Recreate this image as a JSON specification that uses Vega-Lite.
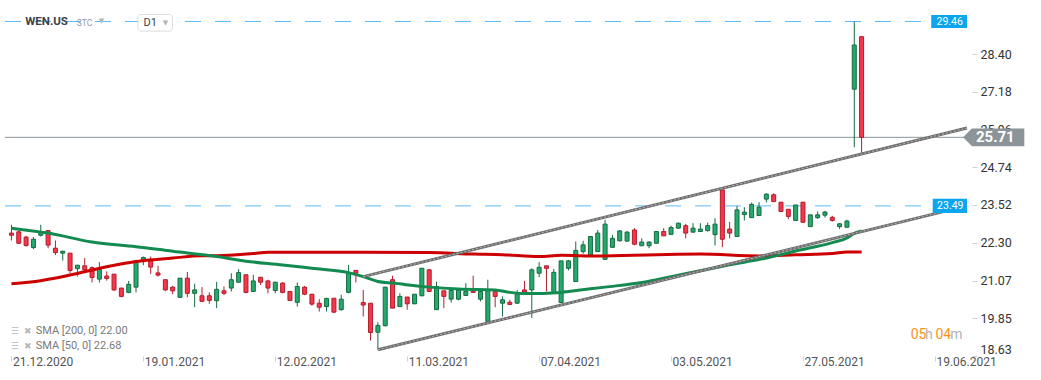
{
  "$schema": "https://vega.github.io/schema/vega-lite/v6.json",
  "width": 972,
  "height": 356,
  "autosize": {"type": "none"},
  "padding": {"left": 0, "top": 0, "right": 69, "bottom": 24},
  "background": "white",
  "config": {
    "view": {"stroke": null},
    "font": "Roboto",
    "axis": {"domain": false, "grid": false, "labelFont": "Roboto", "tickColor": "#d0d0d0"}
  },
  "datasets": {
    "candles": [
      {"i":0,"o":22.61,"h":22.88,"l":22.37,"c":22.54},
      {"i":1,"o":22.65,"h":22.69,"l":22.26,"c":22.28},
      {"i":2,"o":22.48,"h":22.52,"l":22.17,"c":22.21},
      {"i":3,"o":22.14,"h":22.48,"l":22.09,"c":22.41},
      {"i":4,"o":22.54,"h":22.88,"l":22.50,"c":22.66},
      {"i":5,"o":22.69,"h":22.71,"l":22.12,"c":22.22},
      {"i":6,"o":22.12,"h":22.37,"l":21.90,"c":21.98},
      {"i":7,"o":21.96,"h":22.04,"l":21.72,"c":22.02},
      {"i":8,"o":21.96,"h":21.96,"l":21.31,"c":21.40},
      {"i":9,"o":21.46,"h":21.57,"l":21.20,"c":21.57},
      {"i":10,"o":21.55,"h":21.80,"l":21.31,"c":21.42},
      {"i":11,"o":21.49,"h":21.53,"l":21.01,"c":21.17},
      {"i":12,"o":21.12,"h":21.67,"l":21.01,"c":21.44},
      {"i":13,"o":21.22,"h":21.37,"l":21.07,"c":21.14},
      {"i":14,"o":21.28,"h":21.28,"l":20.74,"c":20.77},
      {"i":15,"o":20.83,"h":20.83,"l":20.53,"c":20.56},
      {"i":16,"o":20.69,"h":21.06,"l":20.66,"c":20.95},
      {"i":17,"o":20.86,"h":21.71,"l":20.69,"c":21.71},
      {"i":18,"o":21.69,"h":21.85,"l":21.57,"c":21.82},
      {"i":19,"o":21.76,"h":21.85,"l":21.29,"c":21.51},
      {"i":20,"o":21.32,"h":21.55,"l":21.20,"c":21.25},
      {"i":21,"o":21.10,"h":21.12,"l":20.73,"c":20.77},
      {"i":22,"o":20.86,"h":20.90,"l":20.63,"c":20.74},
      {"i":23,"o":20.53,"h":21.15,"l":20.51,"c":21.15},
      {"i":24,"o":21.15,"h":21.35,"l":20.53,"c":20.66},
      {"i":25,"o":20.66,"h":20.97,"l":20.21,"c":20.77},
      {"i":26,"o":20.58,"h":20.86,"l":20.38,"c":20.40},
      {"i":27,"o":20.58,"h":20.69,"l":20.32,"c":20.43},
      {"i":28,"o":20.42,"h":21.03,"l":20.18,"c":20.79},
      {"i":29,"o":20.74,"h":20.88,"l":20.60,"c":20.66},
      {"i":30,"o":20.83,"h":21.31,"l":20.72,"c":21.10},
      {"i":31,"o":21.02,"h":21.44,"l":21.01,"c":21.33},
      {"i":32,"o":21.26,"h":21.26,"l":20.66,"c":20.69},
      {"i":33,"o":20.72,"h":21.26,"l":20.71,"c":21.06},
      {"i":34,"o":21.18,"h":21.18,"l":20.93,"c":21.02},
      {"i":35,"o":21.06,"h":21.10,"l":20.66,"c":20.83},
      {"i":36,"o":20.75,"h":21.02,"l":20.66,"c":21.02},
      {"i":37,"o":20.99,"h":21.02,"l":20.66,"c":20.69},
      {"i":38,"o":20.72,"h":20.72,"l":20.42,"c":20.43},
      {"i":39,"o":20.37,"h":21.01,"l":20.23,"c":20.88},
      {"i":40,"o":20.86,"h":20.90,"l":20.60,"c":20.63},
      {"i":41,"o":20.63,"h":20.63,"l":20.26,"c":20.31},
      {"i":42,"o":20.34,"h":20.47,"l":20.07,"c":20.21},
      {"i":43,"o":20.23,"h":20.52,"l":20.07,"c":20.49},
      {"i":44,"o":20.50,"h":20.50,"l":20.02,"c":20.05},
      {"i":45,"o":20.13,"h":20.61,"l":20.10,"c":20.47},
      {"i":46,"o":20.69,"h":21.58,"l":20.66,"c":21.31},
      {"i":47,"o":21.40,"h":21.42,"l":21.01,"c":21.31},
      {"i":48,"o":20.36,"h":20.77,"l":19.91,"c":20.28},
      {"i":49,"o":20.34,"h":20.34,"l":19.13,"c":19.39},
      {"i":50,"o":19.40,"h":19.72,"l":18.83,"c":19.62},
      {"i":51,"o":19.61,"h":20.86,"l":19.59,"c":20.86},
      {"i":52,"o":21.10,"h":21.23,"l":20.18,"c":20.18},
      {"i":53,"o":20.23,"h":20.66,"l":20.23,"c":20.56},
      {"i":54,"o":20.54,"h":20.54,"l":20.13,"c":20.32},
      {"i":55,"o":20.32,"h":20.63,"l":20.31,"c":20.63},
      {"i":56,"o":20.58,"h":21.47,"l":20.56,"c":21.47},
      {"i":57,"o":21.42,"h":21.45,"l":20.72,"c":20.72},
      {"i":58,"o":20.13,"h":21.04,"l":20.13,"c":20.88},
      {"i":59,"o":20.74,"h":20.74,"l":20.18,"c":20.56},
      {"i":60,"o":20.47,"h":20.83,"l":20.36,"c":20.75},
      {"i":61,"o":20.47,"h":20.80,"l":20.43,"c":20.77},
      {"i":62,"o":20.59,"h":20.99,"l":20.59,"c":20.72},
      {"i":63,"o":20.73,"h":21.23,"l":20.69,"c":20.69},
      {"i":64,"o":20.47,"h":20.77,"l":20.40,"c":20.72},
      {"i":65,"o":19.75,"h":21.10,"l":19.75,"c":20.77},
      {"i":66,"o":20.72,"h":20.80,"l":20.21,"c":20.56},
      {"i":67,"o":20.34,"h":20.56,"l":19.91,"c":20.45},
      {"i":68,"o":20.37,"h":20.45,"l":20.28,"c":20.30},
      {"i":69,"o":20.34,"h":20.77,"l":20.32,"c":20.64},
      {"i":70,"o":20.77,"h":21.06,"l":20.70,"c":20.70},
      {"i":71,"o":20.77,"h":21.47,"l":19.86,"c":21.42},
      {"i":72,"o":21.31,"h":21.67,"l":21.18,"c":21.50},
      {"i":73,"o":21.55,"h":21.55,"l":20.72,"c":21.47},
      {"i":74,"o":20.69,"h":21.45,"l":20.66,"c":21.34},
      {"i":75,"o":20.36,"h":21.71,"l":20.36,"c":21.71},
      {"i":76,"o":21.47,"h":21.74,"l":21.40,"c":21.71},
      {"i":77,"o":21.04,"h":22.34,"l":21.04,"c":22.05},
      {"i":78,"o":22.01,"h":22.36,"l":21.94,"c":22.23},
      {"i":79,"o":21.90,"h":22.50,"l":21.90,"c":22.50},
      {"i":80,"o":22.01,"h":22.71,"l":22.01,"c":22.61},
      {"i":81,"o":21.76,"h":23.04,"l":21.74,"c":22.90},
      {"i":82,"o":22.15,"h":22.55,"l":22.14,"c":22.44},
      {"i":83,"o":22.36,"h":22.71,"l":22.34,"c":22.68},
      {"i":84,"o":22.35,"h":22.68,"l":22.34,"c":22.64},
      {"i":85,"o":22.71,"h":22.77,"l":22.21,"c":22.25},
      {"i":86,"o":22.20,"h":22.44,"l":22.19,"c":22.32},
      {"i":87,"o":22.20,"h":22.34,"l":22.12,"c":22.32},
      {"i":88,"o":22.28,"h":22.68,"l":22.28,"c":22.66},
      {"i":89,"o":22.66,"h":22.77,"l":22.52,"c":22.52},
      {"i":90,"o":22.57,"h":22.85,"l":22.55,"c":22.79},
      {"i":91,"o":22.77,"h":22.95,"l":22.74,"c":22.93},
      {"i":92,"o":22.85,"h":22.91,"l":22.44,"c":22.61},
      {"i":93,"o":22.64,"h":22.93,"l":22.63,"c":22.77},
      {"i":94,"o":22.66,"h":22.93,"l":22.66,"c":22.74},
      {"i":95,"o":22.69,"h":22.95,"l":22.66,"c":22.85},
      {"i":96,"o":22.56,"h":23.09,"l":22.21,"c":22.90},
      {"i":97,"o":24.01,"h":24.01,"l":22.15,"c":22.41},
      {"i":98,"o":22.74,"h":22.97,"l":22.44,"c":22.61},
      {"i":99,"o":22.50,"h":23.49,"l":22.50,"c":23.36},
      {"i":100,"o":23.21,"h":23.45,"l":23.02,"c":23.29},
      {"i":101,"o":23.11,"h":23.60,"l":23.11,"c":23.54},
      {"i":102,"o":23.18,"h":23.61,"l":23.18,"c":23.45},
      {"i":103,"o":23.71,"h":23.90,"l":23.60,"c":23.87},
      {"i":104,"o":23.85,"h":23.90,"l":23.63,"c":23.63},
      {"i":105,"o":23.61,"h":23.61,"l":23.31,"c":23.31},
      {"i":106,"o":23.38,"h":23.38,"l":23.06,"c":23.15},
      {"i":107,"o":23.02,"h":23.52,"l":23.02,"c":23.52},
      {"i":108,"o":23.61,"h":23.61,"l":22.95,"c":22.96},
      {"i":109,"o":22.82,"h":23.20,"l":22.82,"c":23.20},
      {"i":110,"o":23.11,"h":23.31,"l":23.07,"c":23.20},
      {"i":111,"o":23.19,"h":23.33,"l":23.11,"c":23.29},
      {"i":112,"o":23.12,"h":23.17,"l":22.98,"c":23.02},
      {"i":113,"o":22.82,"h":22.93,"l":22.74,"c":22.91},
      {"i":114,"o":22.80,"h":23.04,"l":22.79,"c":23.00},
      {"i":115,"o":27.27,"h":29.46,"l":25.39,"c":28.70},
      {"i":116,"o":28.97,"h":28.97,"l":25.19,"c":25.71}
    ],
    "sma200": [
      {"i":0,"v":20.97},{"i":4,"v":21.07},{"i":8,"v":21.25},{"i":13,"v":21.52},{"i":17,"v":21.69},
      {"i":22,"v":21.80},{"i":26,"v":21.88},{"i":28,"v":21.88},{"i":33,"v":21.95},{"i":35,"v":21.99},
      {"i":48,"v":21.99},{"i":57,"v":21.98},{"i":63,"v":21.93},{"i":67,"v":21.91},{"i":72,"v":21.85},
      {"i":75,"v":21.89},{"i":80,"v":21.87},{"i":88,"v":21.91},{"i":94,"v":21.93},{"i":102,"v":21.87},
      {"i":107,"v":21.91},{"i":112,"v":21.95},{"i":114,"v":22.00},{"i":116,"v":22.00}
    ],
    "sma50": [
      {"i":0,"v":22.77},{"i":5,"v":22.61},{"i":11,"v":22.32},{"i":17,"v":22.17},{"i":22,"v":22.02},
      {"i":28,"v":21.85},{"i":32,"v":21.70},{"i":37,"v":21.58},{"i":41,"v":21.47},{"i":46,"v":21.33},
      {"i":48,"v":21.20},{"i":50,"v":21.04},{"i":52,"v":20.99},{"i":57,"v":20.86},{"i":61,"v":20.80},
      {"i":66,"v":20.77},{"i":68,"v":20.69},{"i":70,"v":20.65},{"i":75,"v":20.69},{"i":76,"v":20.72},
      {"i":81,"v":20.86},{"i":86,"v":21.01},{"i":90,"v":21.20},{"i":95,"v":21.44},{"i":98,"v":21.58},
      {"i":103,"v":21.80},{"i":107,"v":22.03},{"i":112,"v":22.30},{"i":114,"v":22.45},{"i":115,"v":22.60},
      {"i":116,"v":22.68}
    ],
    "trend": [
      {"i1":48,"v1":21.20,"i2":130.38,"v2":26.01},
      {"i1":50,"v1":18.83,"i2":130.38,"v2":23.49}
    ],
    "dashedLevels": [
      {"v":29.46,"i1":-0.878,"i2":125.5},
      {"v":23.49,"i1":-0.878,"i2":125.7}
    ],
    "lastPrice": [{"v":25.71,"i1":-0.878,"i2":130.5}]
  },
  "layer": [
    {
      "data": {"name": "dashedLevels"},
      "mark": {"type": "rule", "color": "#5cbcf3", "strokeWidth": 1, "strokeDash": [16, 14]},
      "encoding": {
        "x": {
          "field": "i1", "type": "quantitative", "title": null,
          "scale": {"domain": [-0.878, 130.38], "nice": false, "zero": false},
          "axis": {
            "orient": "bottom",
            "title": null,
            "values": [0, 18, 36, 54, 72, 90, 108, 126],
            "labelExpr": "['21.12.2020','19.01.2021','12.02.2021','11.03.2021','07.04.2021','03.05.2021','27.05.2021','19.06.2021'][round(datum.value/18)]",
            "labelAlign": "left",
            "labelBaseline": "top",
            "labelOffset": 1,
            "labelPadding": -5,
            "tickSize": 5,
            "labelFontSize": 12,
            "labelColor": "#555555",
            "labelFlush": false,
            "labelOverlap": false,
            "labelBound": false
          }
        },
        "x2": {"field": "i2"},
        "y": {
          "field": "v", "type": "quantitative", "title": null,
          "scale": {"domain": [18.63, 30.157], "nice": false, "zero": false},
          "axis": {
            "orient": "right",
            "title": null,
            "values": [18.63, 19.85, 21.07, 22.30, 23.52, 24.74, 25.96, 27.18, 28.40],
            "format": ".2f",
            "tickSize": 5,
            "labelPadding": 3,
            "labelFontSize": 12.5,
            "labelColor": "#333333",
            "labelFlush": true,
            "labelOverlap": false
          }
        }
      }
    },
    {
      "data": {"name": "lastPrice"},
      "mark": {"type": "rule", "color": "#8a9499", "strokeWidth": 1},
      "encoding": {
        "x": {"field": "i1", "type": "quantitative", "title": null},
        "x2": {"field": "i2"},
        "y": {"field": "v", "type": "quantitative", "title": null}
      }
    },
    {
      "data": {"name": "candles"},
      "mark": {"type": "rule", "strokeWidth": 1},
      "encoding": {
        "x": {"field": "i", "type": "quantitative", "title": null},
        "y": {"field": "l", "type": "quantitative", "title": null},
        "y2": {"field": "h"},
        "stroke": {"condition": {"test": "datum.c >= datum.o", "value": "#146b40"}, "value": "#b01e2d"}
      }
    },
    {
      "data": {"name": "candles"},
      "mark": {"type": "bar", "width": 4, "strokeWidth": 1},
      "encoding": {
        "x": {"field": "i", "type": "quantitative", "title": null},
        "y": {"field": "o", "type": "quantitative", "title": null},
        "y2": {"field": "c"},
        "fill": {"condition": {"test": "datum.c >= datum.o", "value": "#26a96c"}, "value": "#f5364b"},
        "stroke": {"condition": {"test": "datum.c >= datum.o", "value": "#146b40"}, "value": "#b01e2d"}
      }
    },
    {
      "data": {"name": "sma200"},
      "mark": {"type": "line", "color": "#cc0000", "strokeWidth": 3, "interpolate": "monotone"},
      "encoding": {
        "x": {"field": "i", "type": "quantitative", "title": null},
        "y": {"field": "v", "type": "quantitative", "title": null}
      }
    },
    {
      "data": {"name": "sma50"},
      "mark": {"type": "line", "color": "#138a50", "strokeWidth": 3, "interpolate": "monotone"},
      "encoding": {
        "x": {"field": "i", "type": "quantitative", "title": null},
        "y": {"field": "v", "type": "quantitative", "title": null}
      }
    },
    {
      "data": {"name": "trend"},
      "mark": {"type": "rule", "color": "#6e6e6e", "strokeWidth": 3},
      "encoding": {
        "x": {"field": "i1", "type": "quantitative", "title": null},
        "x2": {"field": "i2"},
        "y": {"field": "v1", "type": "quantitative", "title": null},
        "y2": {"field": "v2"}
      }
    },
    {
      "data": {"name": "trend"},
      "mark": {"type": "rule", "color": "#b8b8b8", "strokeWidth": 1, "strokeDash": [2, 2]},
      "encoding": {
        "x": {"field": "i1", "type": "quantitative", "title": null},
        "x2": {"field": "i2"},
        "y": {"field": "v1", "type": "quantitative", "title": null},
        "y2": {"field": "v2"}
      }
    },
    {
      "data": {"values": [
        {"i1": 125.5, "i2": 130.38, "v1": 29.25, "v2": 29.67},
        {"i1": 125.7, "i2": 130.38, "v1": 23.26, "v2": 23.72}
      ]},
      "mark": {"type": "rect", "color": "#0ca5ef"},
      "encoding": {
        "x": {"field": "i1", "type": "quantitative", "title": null},
        "x2": {"field": "i2"},
        "y": {"field": "v1", "type": "quantitative", "title": null},
        "y2": {"field": "v2"}
      }
    },
    {
      "data": {"values": [{"i1": 131.07, "i2": 138.2, "v1": 25.42, "v2": 26.0}]},
      "mark": {"type": "rect", "color": "#8a9499"},
      "encoding": {
        "x": {"field": "i1", "type": "quantitative", "title": null},
        "x2": {"field": "i2"},
        "y": {"field": "v1", "type": "quantitative", "title": null},
        "y2": {"field": "v2"}
      }
    },
    {
      "data": {"values": [{"i": 131.07, "v": 25.71}]},
      "mark": {"type": "point", "shape": "M-1,0L0,-1L0,1Z", "size": 324, "filled": true, "opacity": 1, "color": "#8a9499", "strokeWidth": 0},
      "encoding": {
        "x": {"field": "i", "type": "quantitative", "title": null},
        "y": {"field": "v", "type": "quantitative", "title": null}
      }
    },
    {
      "data": {"values": [{"i": 128.02, "v": 29.46, "t": "29.46"}, {"i": 128.1, "v": 23.49, "t": "23.49"}]},
      "mark": {"type": "text", "color": "white", "fontSize": 10.5, "align": "center", "baseline": "middle"},
      "encoding": {
        "x": {"field": "i", "type": "quantitative", "title": null},
        "y": {"field": "v", "type": "quantitative", "title": null},
        "text": {"field": "t"}
      }
    },
    {
      "data": {"values": [{"i": 131.6, "v": 25.71, "t": "25.71"}]},
      "mark": {"type": "text", "color": "white", "fontSize": 15, "fontWeight": "bold", "align": "left", "baseline": "middle"},
      "encoding": {
        "x": {"field": "i", "type": "quantitative", "title": null},
        "y": {"field": "v", "type": "quantitative", "title": null},
        "text": {"field": "t"}
      }
    },
    {
      "data": {"values": [{"i1": 17.26, "i2": 21.98, "v1": 29.15, "v2": 29.69}]},
      "mark": {"type": "rect", "fill": "white", "stroke": "#dddddd", "strokeWidth": 1, "cornerRadius": 3},
      "encoding": {
        "x": {"field": "i1", "type": "quantitative", "title": null},
        "x2": {"field": "i2"},
        "y": {"field": "v1", "type": "quantitative", "title": null},
        "y2": {"field": "v2"}
      }
    },
    {
      "data": {"values": [{"i": 1.89, "v": 29.43, "t": "WEN.US"}]},
      "mark": {"type": "text", "color": "#38434d", "fontSize": 11.5, "fontWeight": "bold", "align": "left", "baseline": "middle"},
      "encoding": {
        "x": {"field": "i", "type": "quantitative", "title": null},
        "y": {"field": "v", "type": "quantitative", "title": null},
        "text": {"field": "t"}
      }
    },
    {
      "data": {"values": [{"i": 8.91, "v": 29.41, "t": "STC"}]},
      "mark": {"type": "text", "color": "#8f9aa3", "fontSize": 8.5, "align": "left", "baseline": "middle"},
      "encoding": {
        "x": {"field": "i", "type": "quantitative", "title": null},
        "y": {"field": "v", "type": "quantitative", "title": null},
        "text": {"field": "t"}
      }
    },
    {
      "data": {"values": [{"i": 12.29, "v": 29.47, "t": "▼"}, {"i": 21.0, "v": 29.42, "t": "▼"}]},
      "mark": {"type": "text", "color": "#b5b5b5", "fontSize": 7, "font": "DejaVu Sans", "align": "center", "baseline": "middle"},
      "encoding": {
        "x": {"field": "i", "type": "quantitative", "title": null},
        "y": {"field": "v", "type": "quantitative", "title": null},
        "text": {"field": "t"}
      }
    },
    {
      "data": {"values": [{"i": 18.03, "v": 29.42, "t": "D1"}]},
      "mark": {"type": "text", "color": "#38434d", "fontSize": 11, "align": "left", "baseline": "middle"},
      "encoding": {
        "x": {"field": "i", "type": "quantitative", "title": null},
        "y": {"field": "v", "type": "quantitative", "title": null},
        "text": {"field": "t"}
      }
    },
    {
      "data": {"values": [
        {"i": 0.47, "v": 19.445, "t": "☰"}, {"i": 2.23, "v": 19.445, "t": "✖"},
        {"i": 0.47, "v": 18.96, "t": "☰"}, {"i": 2.23, "v": 18.96, "t": "✖"}
      ]},
      "mark": {"type": "text", "color": "#b8b8b8", "fontSize": 9, "font": "DejaVu Sans", "align": "center", "baseline": "middle"},
      "encoding": {
        "x": {"field": "i", "type": "quantitative", "title": null},
        "y": {"field": "v", "type": "quantitative", "title": null},
        "text": {"field": "t"}
      }
    },
    {
      "data": {"values": [
        {"i": 3.31, "v": 19.445, "t": "SMA [200,  0] 22.00"},
        {"i": 3.31, "v": 18.96, "t": "SMA [50,  0] 22.68"}
      ]},
      "mark": {"type": "text", "color": "#7a7a7a", "fontSize": 11, "align": "left", "baseline": "middle"},
      "encoding": {
        "x": {"field": "i", "type": "quantitative", "title": null},
        "y": {"field": "v", "type": "quantitative", "title": null},
        "text": {"field": "t"}
      }
    },
    {
      "data": {"values": [{"i": 122.69, "v": 19.316, "t": "05"}, {"i": 126.07, "v": 19.316, "t": "04"}]},
      "mark": {"type": "text", "color": "#f7941d", "fontSize": 14, "align": "left", "baseline": "middle"},
      "encoding": {
        "x": {"field": "i", "type": "quantitative", "title": null},
        "y": {"field": "v", "type": "quantitative", "title": null},
        "text": {"field": "t"}
      }
    },
    {
      "data": {"values": [{"i": 124.65, "v": 19.316, "t": "h"}, {"i": 128.1, "v": 19.316, "t": "m"}]},
      "mark": {"type": "text", "color": "#b0b4b8", "fontSize": 14, "align": "left", "baseline": "middle"},
      "encoding": {
        "x": {"field": "i", "type": "quantitative", "title": null},
        "y": {"field": "v", "type": "quantitative", "title": null},
        "text": {"field": "t"}
      }
    }
  ]
}
